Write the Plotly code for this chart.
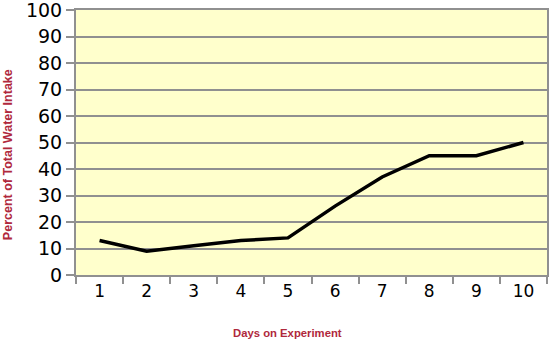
import plotly.graph_objects as go

days = ["1", "2", "3", "4", "5", "6", "7", "8", "9", "10"]
percent = [13, 9, 11, 13, 14, 26, 37, 45, 45, 50]
y_ticks = [0, 10, 20, 30, 40, 50, 60, 70, 80, 90, 100]

fig = go.Figure()
fig.add_trace(go.Scatter(
    x=days, y=percent, mode="lines",
    line=dict(color="black", width=3.5),
    showlegend=False,
))

tick_font = dict(family="DejaVu Sans", size=19, color="black")

fig.update_layout(
    width=552, height=344,
    margin=dict(l=76, r=5, t=10, b=69),
    paper_bgcolor="white",
    plot_bgcolor="#FFFFCC",
    xaxis=dict(
        type="category",
        tickson="boundaries",
        ticks="outside", ticklen=7, tickwidth=2, tickcolor="#909090",
        showgrid=False,
        showline=True, linecolor="#909090", linewidth=2, mirror=True,
        tickfont=dict(family="DejaVu Sans", size=17, color="black"),
        range=[-0.5, 9.5],
        automargin=False,
    ),
    yaxis=dict(
        range=[0, 100],
        tickvals=y_ticks,
        ticks="outside", ticklen=8, tickwidth=2, tickcolor="#909090",
        showgrid=True, gridcolor="#909090", gridwidth=2,
        showline=True, linecolor="#909090", linewidth=2, mirror=True,
        tickfont=tick_font,
        ticklabeloverflow="allow",
        zeroline=False,
        automargin=False,
    ),
    annotations=[
        dict(text="<b>Days on Experiment</b>", xref="paper", yref="paper",
             x=0.45, y=-0.219, xanchor="center", yanchor="middle", showarrow=False,
             font=dict(family="Liberation Sans, Arial", size=11.3, color="#B0283C")),
        dict(text="<b>Percent of Total Water Intake</b>", xref="paper", yref="paper",
             x=-0.144, y=0.453, xanchor="center", yanchor="middle", showarrow=False,
             textangle=-90,
             font=dict(family="Liberation Sans, Arial", size=12.5, color="#B0283C")),
    ],
)

fig.write_html("out.html")
